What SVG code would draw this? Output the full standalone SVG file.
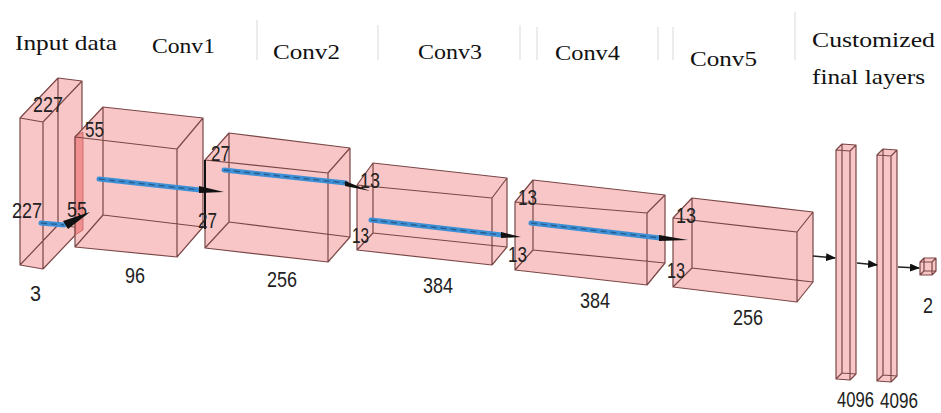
<svg xmlns="http://www.w3.org/2000/svg" width="941" height="413" viewBox="0 0 941 413">
<style>
.face{fill:#f8c6c6;stroke:none}
.edge{fill:none;stroke:#7a4646;stroke-width:1.2;stroke-linejoin:round}
.lbl{font-family:"Liberation Sans",Arial,sans-serif;font-size:22px;fill:#222}
.hdr{font-family:"Liberation Serif","Times New Roman",serif;font-size:21px;fill:#111}
.sep{stroke:#e6e6e6;stroke-width:1.5}
.blue{stroke:#3d8fd6;stroke-width:5;stroke-linecap:round;fill:none}
.dash{stroke:#24507a;stroke-width:1.4;stroke-dasharray:6 4;fill:none;opacity:0.8}
.tip{fill:#111}
.conn{stroke:#222;stroke-width:1.3;fill:none}
</style>
<defs>
<marker id="ah" markerWidth="10" markerHeight="8" refX="9" refY="4" orient="auto" markerUnits="userSpaceOnUse">
<path d="M0,0 L10,4 L0,8 Z" fill="#111"/>
</marker>
</defs>
<rect width="941" height="413" fill="#fff"/>

<g id="header">
<line class="sep" x1="257" y1="20" x2="257" y2="60"/>
<line class="sep" x1="378" y1="25" x2="378" y2="60"/>
<line class="sep" x1="520" y1="25" x2="520" y2="60"/>
<line class="sep" x1="537" y1="27" x2="537" y2="60"/>
<line class="sep" x1="658" y1="27" x2="658" y2="60"/>
<line class="sep" x1="673" y1="27" x2="673" y2="60"/>
<line class="sep" x1="795" y1="12" x2="795" y2="60"/>
<text class="hdr" x="15" y="50" textLength="102" lengthAdjust="spacingAndGlyphs">Input data</text>
<text class="hdr" x="152" y="53" textLength="63" lengthAdjust="spacingAndGlyphs">Conv1</text>
<text class="hdr" x="273" y="59" textLength="67" lengthAdjust="spacingAndGlyphs">Conv2</text>
<text class="hdr" x="418" y="59" textLength="64" lengthAdjust="spacingAndGlyphs">Conv3</text>
<text class="hdr" x="555" y="60" textLength="65" lengthAdjust="spacingAndGlyphs">Conv4</text>
<text class="hdr" x="690" y="66" textLength="67" lengthAdjust="spacingAndGlyphs">Conv5</text>
<text class="hdr" x="812" y="47" textLength="123" lengthAdjust="spacingAndGlyphs">Customized</text>
<text class="hdr" x="812" y="84" textLength="113" lengthAdjust="spacingAndGlyphs">final layers</text>
</g>

<g id="input">
<polygon class="face" points="20,118 58,78 82,81 82,228 43,269 20,265"/>
<path class="edge" d="M20,118 L43,122 L43,269 L20,265 Z M58,78 L82,81 L82,228 L58,225 Z M20,118 L58,78 M43,122 L82,81 M43,269 L82,228 M20,265 L58,225"/>
<text class="lbl" x="33" y="112" textLength="30" lengthAdjust="spacingAndGlyphs">227</text>
<text class="lbl" x="12" y="218" textLength="30" lengthAdjust="spacingAndGlyphs">227</text>
<text class="lbl" x="30" y="301" textLength="11" lengthAdjust="spacingAndGlyphs">3</text>
</g>

<g id="conv1">
<polygon class="face" points="75,137 103,107 203,118 203,227 177,257 75,247"/>
<polygon points="75,136 83,132 83,230 75,235" fill="#ef8f8f" stroke="#c46060" stroke-width="0.8"/>
<path class="edge" d="M75,137 L177,149 L177,257 L75,247 Z M103,107 L203,118 L203,227 L103,215 Z M75,137 L103,107 M177,149 L203,118 M177,257 L203,227 M75,247 L103,215"/>
<text class="lbl" x="67" y="217" textLength="20" lengthAdjust="spacingAndGlyphs">55</text>
<text class="lbl" x="85" y="137" textLength="19" lengthAdjust="spacingAndGlyphs">55</text>
<text class="lbl" x="125" y="283" textLength="20" lengthAdjust="spacingAndGlyphs">96</text>
</g>

<g id="conv2">
<polygon class="face" points="205,160 229,133 350,148 350,237 328,262 205,248"/>
<path class="edge" d="M205,160 L328,173 L328,262 L205,248 Z M229,133 L350,148 L350,237 L229,222 Z M205,160 L229,133 M328,173 L350,148 M328,262 L350,237 M205,248 L229,222"/>
<line x1="205" y1="160" x2="205" y2="229" stroke="#111" stroke-width="2"/>
<text class="lbl" x="198" y="228" textLength="19" lengthAdjust="spacingAndGlyphs">27</text>
<text class="lbl" x="211" y="161" textLength="19" lengthAdjust="spacingAndGlyphs">27</text>
<text class="lbl" x="267" y="287" textLength="30" lengthAdjust="spacingAndGlyphs">256</text>
</g>

<g id="conv3">
<polygon class="face" points="357,185 373,163 507,178 507,247 492,265 357,250"/>
<path class="edge" d="M357,185 L492,198 L492,265 L357,250 Z M373,163 L507,178 L507,247 L373,233 Z M357,185 L373,163 M492,198 L507,178 M492,265 L507,247 M357,250 L373,233"/>
<text class="lbl" x="360" y="188" textLength="20" lengthAdjust="spacingAndGlyphs">13</text>
<text class="lbl" x="352" y="243" textLength="17" lengthAdjust="spacingAndGlyphs">13</text>
<text class="lbl" x="423" y="293" textLength="30" lengthAdjust="spacingAndGlyphs">384</text>
</g>

<g id="conv4">
<polygon class="face" points="515,202 533,180 665,195 665,263 647,285 515,270"/>
<path class="edge" d="M515,202 L647,213 L647,285 L515,270 Z M533,180 L665,195 L665,263 L533,250 Z M515,202 L533,180 M647,213 L665,195 M647,285 L665,263 M515,270 L533,250"/>
<text class="lbl" x="518" y="205" textLength="19" lengthAdjust="spacingAndGlyphs">13</text>
<text class="lbl" x="508" y="262" textLength="19" lengthAdjust="spacingAndGlyphs">13</text>
<text class="lbl" x="580" y="308" textLength="30" lengthAdjust="spacingAndGlyphs">384</text>
</g>

<g id="conv5">
<polygon class="face" points="673,218 692,198 813,212 813,282 797,302 673,287"/>
<path class="edge" d="M673,218 L797,232 L797,302 L673,287 Z M692,198 L813,212 L813,282 L692,268 Z M673,218 L692,198 M797,232 L813,212 M797,302 L813,282 M673,287 L692,268"/>
<text class="lbl" x="676" y="223" textLength="20" lengthAdjust="spacingAndGlyphs">13</text>
<text class="lbl" x="667" y="278" textLength="18" lengthAdjust="spacingAndGlyphs">13</text>
<text class="lbl" x="733" y="325" textLength="30" lengthAdjust="spacingAndGlyphs">256</text>
</g>

<g id="fc1">
<polygon class="face" points="836,150 842,144 856,145 856,374 850,380 836,379"/>
<path class="edge" d="M836,150 L850,151 L850,380 L836,379 Z M842,144 L856,145 L856,374 L842,373 Z M836,150 L842,144 M850,151 L856,145 M850,380 L856,374 M836,379 L842,373"/>
<text class="lbl" x="837" y="407" textLength="37" lengthAdjust="spacingAndGlyphs">4096</text>
</g>

<g id="fc2">
<polygon class="face" points="877,155 883,149 897,150 897,376 891,382 877,381"/>
<path class="edge" d="M877,155 L891,156 L891,382 L877,381 Z M883,149 L897,150 L897,376 L883,375 Z M877,155 L883,149 M891,156 L897,150 M891,382 L897,376 M877,381 L883,375"/>
<text class="lbl" x="880" y="408" textLength="38" lengthAdjust="spacingAndGlyphs">4096</text>
</g>

<g id="output">
<polygon class="face" points="920,262 924,258 936,258 936,271 932,275 920,275"/>
<path class="edge" d="M920,262 L932,262 L932,275 L920,275 Z M924,258 L936,258 L936,271 L924,271 Z M920,262 L924,258 M932,262 L936,258 M932,275 L936,271 M920,275 L924,271"/>
<text class="lbl" x="923" y="313" textLength="10" lengthAdjust="spacingAndGlyphs">2</text>
</g>

<g id="connectors">
<line class="blue" x1="41" y1="223" x2="64" y2="225"/>
<line class="dash" x1="41" y1="223" x2="64" y2="225"/>
<polygon class="tip" points="63,221 68,229 90,212"/>
<line class="blue" x1="99" y1="179" x2="200" y2="190"/>
<line class="dash" x1="99" y1="179" x2="200" y2="190"/>
<polygon class="tip" points="199,186 199,193 224,192"/>
<line class="blue" x1="224" y1="170" x2="346" y2="183"/>
<line class="dash" x1="224" y1="170" x2="346" y2="183"/>
<polygon class="tip" points="345,181 345,186 370,191"/>
<line class="blue" x1="371" y1="220" x2="502" y2="235"/>
<line class="dash" x1="371" y1="220" x2="502" y2="235"/>
<polygon class="tip" points="501,232 501,238 521,237"/>
<line class="blue" x1="531" y1="223" x2="660" y2="238"/>
<line class="dash" x1="531" y1="223" x2="660" y2="238"/>
<polygon class="tip" points="659,235 659,241 688,240"/>
<line class="conn" x1="813" y1="256" x2="835" y2="258" marker-end="url(#ah)"/>
<line class="conn" x1="857" y1="263" x2="877" y2="265" marker-end="url(#ah)"/>
<line class="conn" x1="898" y1="267" x2="919" y2="268" marker-end="url(#ah)"/>
</g>
</svg>
